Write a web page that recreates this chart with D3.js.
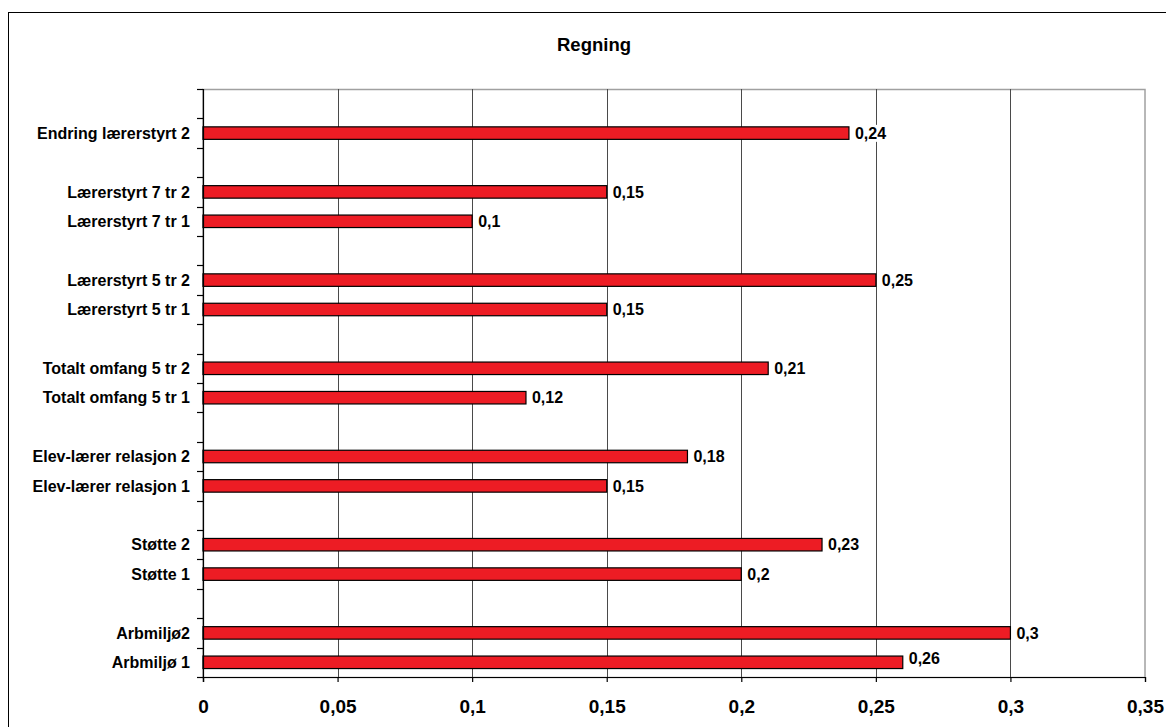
<!DOCTYPE html>
<html>
<head>
<meta charset="utf-8">
<script src="https://cdn.jsdelivr.net/npm/d3@7"></script>
<style>
  body { margin: 0; background: #fff; }
  svg { display: block; font-family: "Liberation Sans", Arial, sans-serif; font-weight: bold; }
</style>
</head>
<body>
<svg id="chart" width="1166" height="727"></svg>
<script>
// Category slots, top to bottom; empty strings are spacer rows between groups
const categories = [
  "", "Endring lærerstyrt 2",
  "", "Lærerstyrt 7 tr 2", "Lærerstyrt 7 tr 1",
  "", "Lærerstyrt 5 tr 2", "Lærerstyrt 5 tr 1",
  "", "Totalt omfang 5 tr 2", "Totalt omfang 5 tr 1",
  "", "Elev-lærer relasjon 2", "Elev-lærer relasjon 1",
  "", "Støtte 2", "Støtte 1",
  "", "Arbmiljø2", "Arbmiljø 1"
];
const values = [
  null, 0.24,
  null, 0.15, 0.10,
  null, 0.25, 0.15,
  null, 0.21, 0.12,
  null, 0.18, 0.15,
  null, 0.23, 0.20,
  null, 0.30, 0.26
];
const xTicks = [0, 0.05, 0.1, 0.15, 0.2, 0.25, 0.3, 0.35];
const title = "Regning";

const svg = d3.select("#chart");
const plot = { left: 203, right: 1145, top: 89, bottom: 677 };

const nb = d3.formatLocale({ decimal: ",", thousands: " ", grouping: [3], currency: ["", ""] });
const fmt = nb.format("~g");

const x = d3.scaleLinear().domain([0, 0.35]).range([plot.left, plot.right]);
const y = d3.scaleBand().domain(d3.range(categories.length)).range([plot.top, plot.bottom]).paddingInner(0).paddingOuter(0);
const barH = 12.5;

// Outer chart frame (continues past the right and bottom edges)
svg.append("rect")
  .attr("x", 8.5).attr("y", 12.5).attr("width", 1300).attr("height", 900)
  .attr("fill", "none").attr("stroke", "#000").attr("stroke-width", 1);

// Title
svg.append("text")
  .attr("x", 594).attr("y", 51)
  .attr("text-anchor", "middle").attr("font-size", 18.5)
  .text(title);

// Plot area border
svg.append("rect")
  .attr("x", plot.left).attr("y", plot.top + 0.5)
  .attr("width", plot.right - plot.left).attr("height", plot.bottom - plot.top)
  .attr("fill", "#fff").attr("stroke", "#a0a0a0").attr("stroke-width", 1.5);

// Vertical gridlines
svg.append("g").selectAll("line")
  .data(xTicks.filter(d => d > 0 && d < 0.35))
  .join("line")
  .attr("x1", d => Math.round(x(d)) + 0.5).attr("x2", d => Math.round(x(d)) + 0.5)
  .attr("y1", plot.top).attr("y2", plot.bottom)
  .attr("stroke", "#4a4a4a").attr("stroke-width", 1);

// Bars
const rows = categories.map((c, i) => ({ i, c, v: values[i] }));
const barRows = rows.filter(d => d.v != null);

svg.append("g").selectAll("rect")
  .data(barRows)
  .join("rect")
  .attr("x", x(0))
  .attr("y", d => y(d.i) + y.bandwidth() / 2 - barH / 2)
  .attr("width", d => x(d.v) - x(0))
  .attr("height", barH)
  .attr("fill", "#ed1c24").attr("stroke", "#000").attr("stroke-width", 1.2);

// Value labels with white backing
const lbl = svg.append("g").selectAll("g")
  .data(barRows)
  .join("g")
  .attr("transform", d => {
    const cy = Math.min(y(d.i) + y.bandwidth() / 2, plot.bottom - 19);
    return `translate(${x(d.v) + 6},${cy})`;
  });
lbl.append("text")
  .attr("font-size", 16).attr("dy", "0.36em")
  .text(d => fmt(d.v));
lbl.each(function () {
  const g = d3.select(this);
  const b = g.select("text").node().getBBox();
  g.insert("rect", "text")
    .attr("x", b.x - 1).attr("y", b.y).attr("width", b.width + 2).attr("height", b.height)
    .attr("fill", "#fff");
});

// Category axis
const yAxis = svg.append("g");
yAxis.append("line")
  .attr("x1", plot.left + 0.5).attr("x2", plot.left + 0.5)
  .attr("y1", plot.top).attr("y2", plot.bottom + 5)
  .attr("stroke", "#000").attr("stroke-width", 1.2);
const bounds = d3.range(categories.length + 1).map(k => k < categories.length ? y(k) : plot.bottom);
yAxis.selectAll("line.tick")
  .data(bounds)
  .join("line").attr("class", "tick")
  .attr("x1", plot.left - 6).attr("x2", plot.left)
  .attr("y1", d => Math.round(d) + 0.5).attr("y2", d => Math.round(d) + 0.5)
  .attr("stroke", "#000").attr("stroke-width", 1.2);
yAxis.selectAll("text")
  .data(rows.filter(d => d.c !== ""))
  .join("text")
  .attr("x", 190)
  .attr("y", d => y(d.i) + y.bandwidth() / 2)
  .attr("dy", "0.35em")
  .attr("text-anchor", "end").attr("font-size", 16)
  .text(d => d.c);

// Value axis
const xAxis = svg.append("g")
  .attr("transform", `translate(0,${plot.bottom})`)
  .call(d3.axisBottom(x).tickValues(xTicks).tickFormat(fmt).tickSize(5).tickPadding(18));
xAxis.select(".domain").attr("stroke", "#000").attr("stroke-width", 1.2);
xAxis.selectAll(".tick line").attr("stroke", "#000").attr("stroke-width", 1.2);
xAxis.selectAll(".tick text")
  .attr("font-size", 19).attr("font-family", "'Liberation Sans', Arial, sans-serif")
  .attr("font-weight", "bold").attr("fill", "#000");
</script>
</body>
</html>
